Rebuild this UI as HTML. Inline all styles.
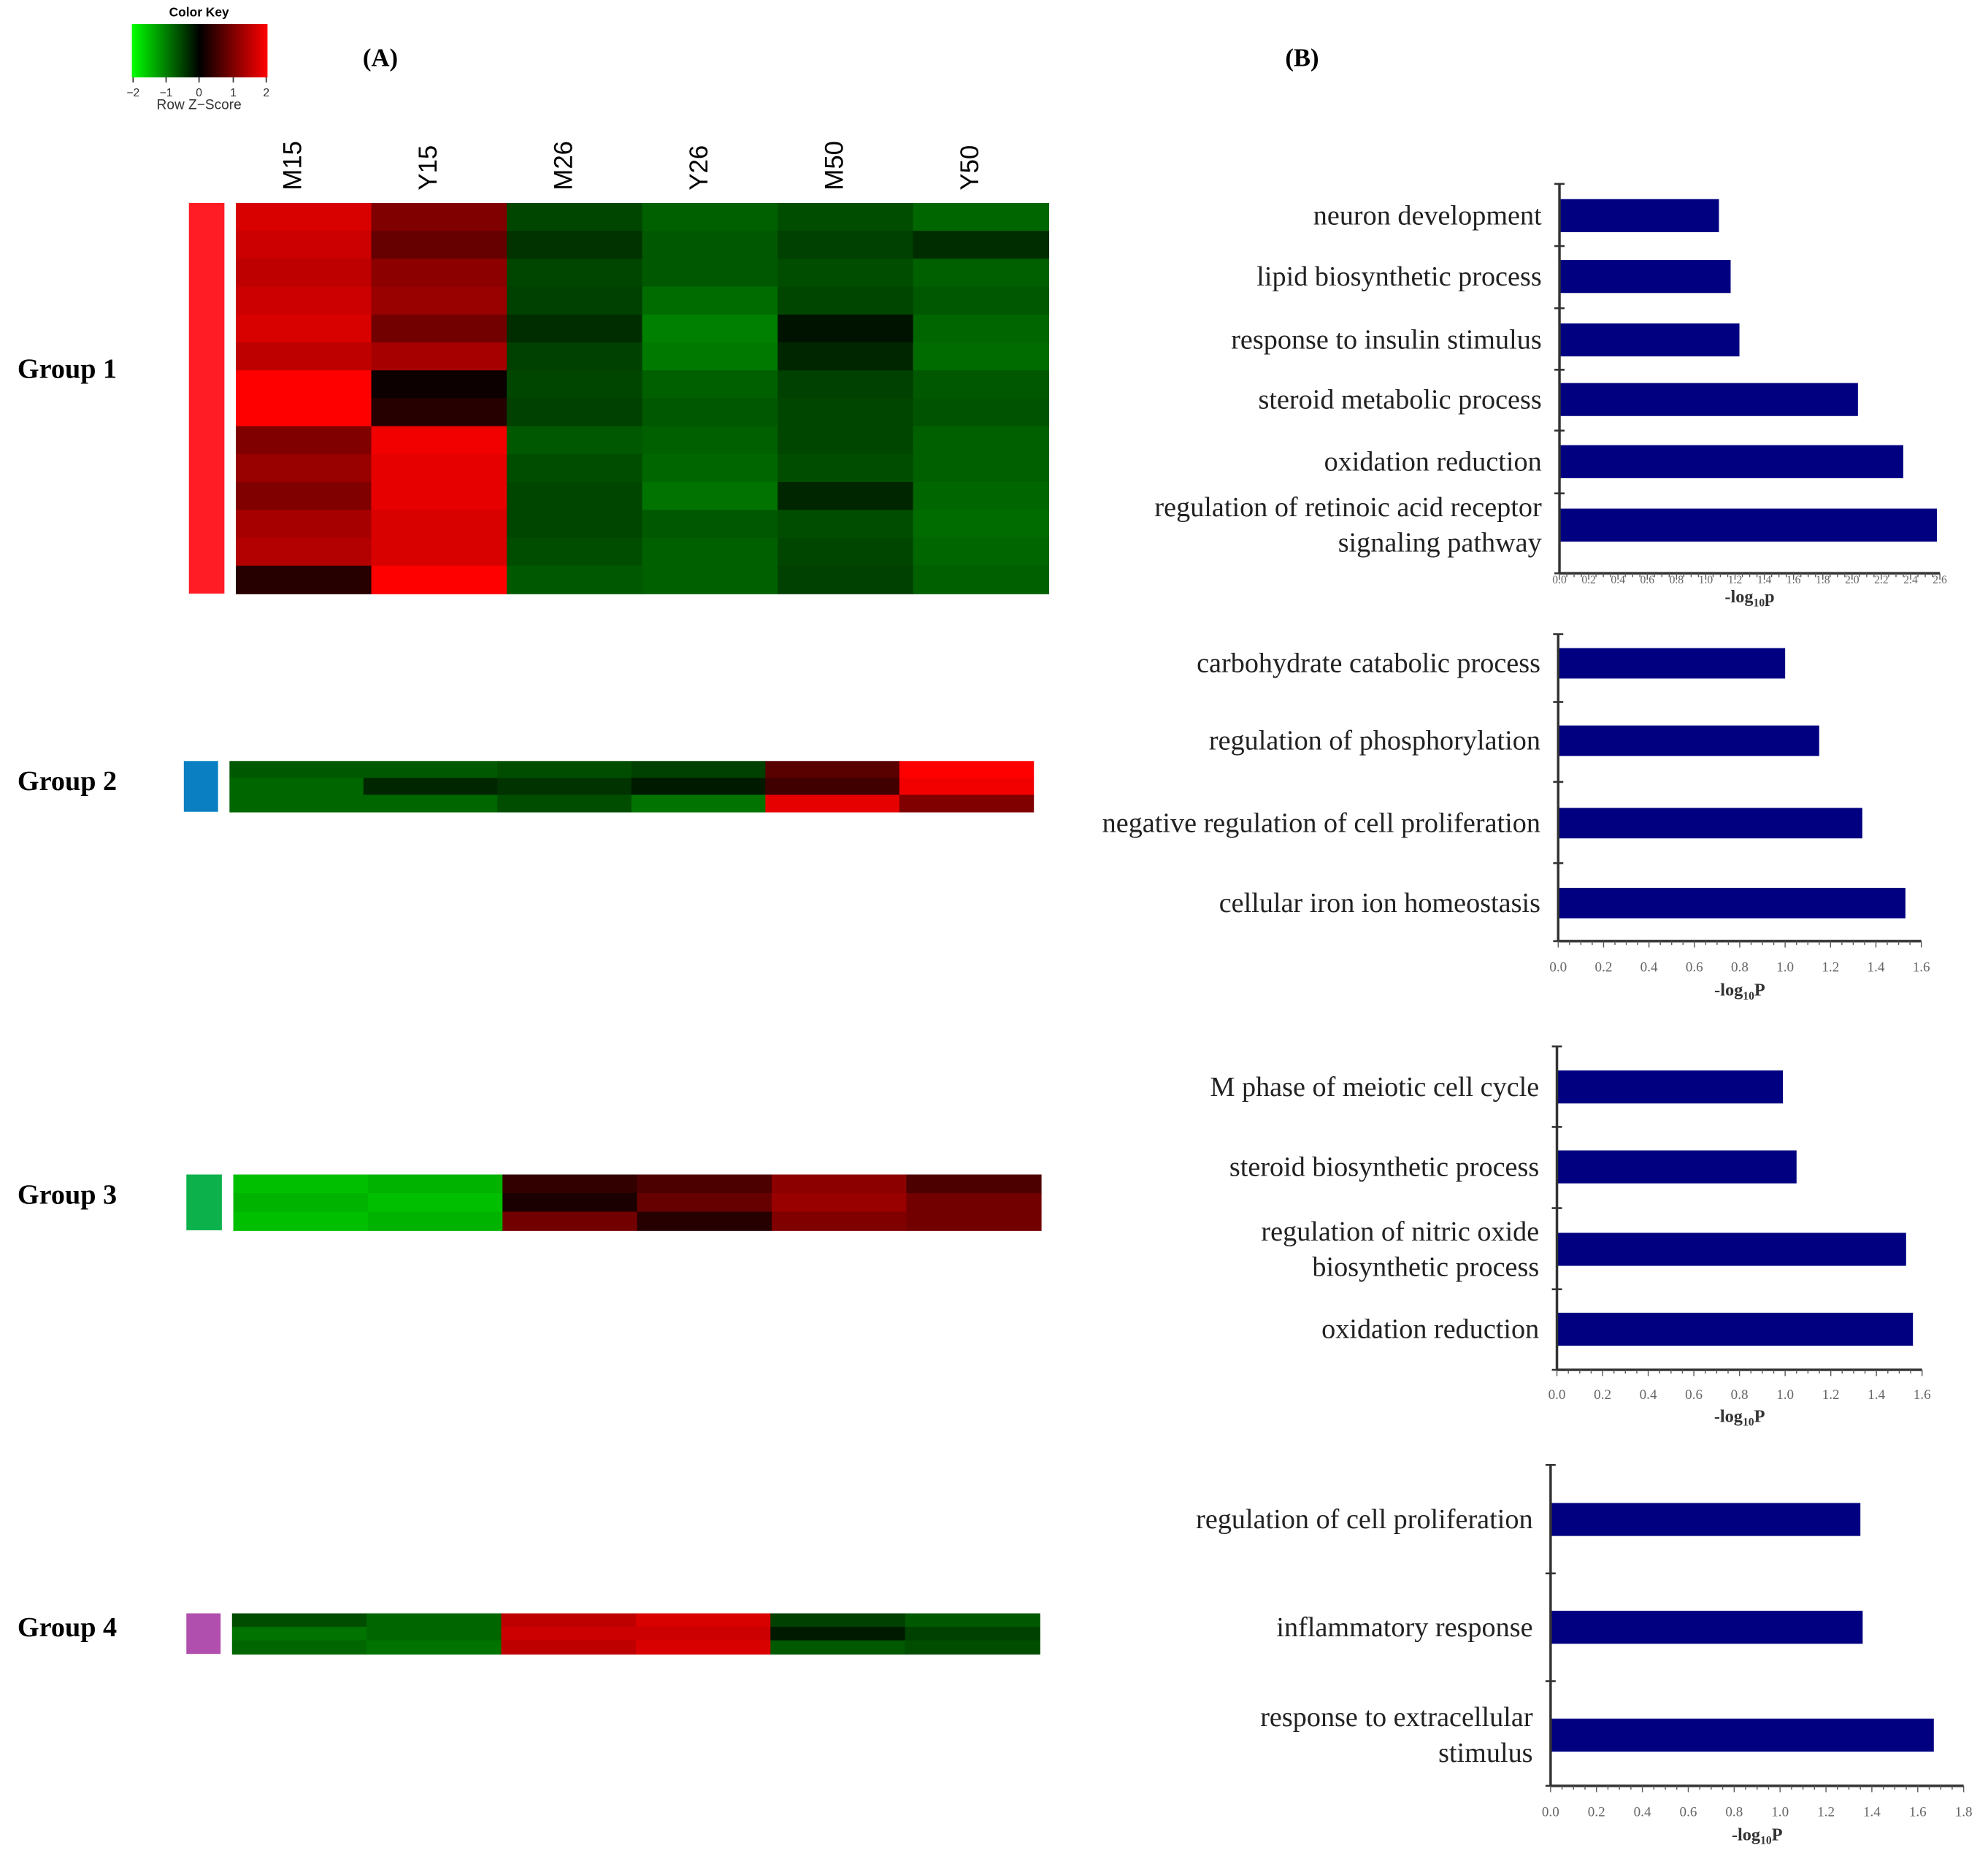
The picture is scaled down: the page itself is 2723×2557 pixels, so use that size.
<!DOCTYPE html>
<html><head><meta charset="utf-8"><style>
html,body{margin:0;padding:0;background:#fff;}
svg{display:block;}
.serif{font-family:"Liberation Serif",serif;}
.sans{font-family:"Liberation Sans",sans-serif;}
</style></head><body>
<svg id="fig" width="2723" height="2557" viewBox="0 0 1568 1472" preserveAspectRatio="none" xmlns="http://www.w3.org/2000/svg">
<defs><linearGradient id="ck" x1="0" x2="1" y1="0" y2="0"><stop offset="0" stop-color="#00ff00"/><stop offset="0.5" stop-color="#000"/><stop offset="1" stop-color="#ff0000"/></linearGradient></defs>
<g>
<text class="sans" x="157" y="13" font-size="10" font-weight="bold" text-anchor="middle">Color Key</text>
<rect x="104" y="19" width="107" height="42" fill="url(#ck)"/>
<g stroke="#333" stroke-width="1"><line x1="105" x2="105" y1="61" y2="65"/><line x1="131" x2="131" y1="61" y2="65"/><line x1="157" x2="157" y1="61" y2="65"/><line x1="184" x2="184" y1="61" y2="65"/><line x1="210" x2="210" y1="61" y2="65"/></g>
<g font-size="9" text-anchor="middle" fill="#333">
<text class="sans" x="105" y="76">−2</text><text class="sans" x="131" y="76">−1</text><text class="sans" x="157" y="76">0</text><text class="sans" x="184" y="76">1</text><text class="sans" x="210" y="76">2</text>
<text class="sans" x="157" y="86" font-size="11">Row Z−Score</text></g>
</g>
<text class="serif" x="300" y="52" font-size="20" font-weight="bold" text-anchor="middle">(A)</text>
<text class="serif" x="1027" y="52" font-size="20" font-weight="bold" text-anchor="middle">(B)</text>
<g id="heat"></g>
<g id="bars"></g>
</svg>
<script>
// ---- heatmap data (row z-scores; columns M15,Y15,M26,Y26,M50,Y50) ----
const sampleLabels = ["M15","Y15","M26","Y26","M50","Y50"];
const group1Rows = [
 [1.7,1.0,-0.55,-0.75,-0.6,-0.8],[1.6,0.8,-0.4,-0.7,-0.5,-0.35],[1.5,1.1,-0.55,-0.7,-0.6,-0.75],
 [1.6,1.2,-0.5,-0.85,-0.55,-0.7],[1.7,0.9,-0.35,-1.0,-0.15,-0.8],[1.5,1.3,-0.5,-0.95,-0.3,-0.85],
 [2.0,0.1,-0.55,-0.75,-0.5,-0.7],[2.0,0.3,-0.5,-0.7,-0.55,-0.65],[1.0,1.9,-0.7,-0.75,-0.55,-0.75],
 [1.2,1.8,-0.6,-0.8,-0.6,-0.75],[1.0,1.8,-0.55,-0.9,-0.3,-0.8],[1.3,1.7,-0.55,-0.7,-0.6,-0.85],
 [1.4,1.7,-0.6,-0.75,-0.55,-0.8],[0.3,2.0,-0.7,-0.75,-0.5,-0.75]
];
const group2Rows = [[-0.7,-0.7,-0.6,-0.5,0.7,2.0],[-0.8,-0.3,-0.4,-0.2,0.5,1.9],[-0.8,-0.8,-0.6,-0.9,1.8,1.0]];
const group3Rows = [[-1.5,-1.4,0.4,0.6,1.1,0.6],[-1.4,-1.5,0.2,0.8,1.2,0.9],[-1.5,-1.4,0.9,0.3,1.0,0.9]];
const group4Rows = [[-0.6,-0.8,1.5,1.7,-0.5,-0.7],[-0.9,-0.8,1.6,1.6,-0.2,-0.5],[-0.8,-0.9,1.5,1.7,-0.7,-0.6]];
const groupNames = ["Group 1","Group 2","Group 3","Group 4"];
const groupColors = ["#ff1c24","#0a7fc1","#0db14b","#b04fae"];

// ---- bar chart data ----
const c1Labels = [["neuron development"],["lipid biosynthetic process"],["response to insulin stimulus"],["steroid metabolic process"],["oxidation reduction"],["regulation of retinoic acid receptor","signaling pathway"]];
const c1Values = [1.09,1.17,1.23,2.04,2.35,2.58];
const c1Ticks = ["0.0","0.2","0.4","0.6","0.8","1.0","1.2","1.4","1.6","1.8","2.0","2.2","2.4","2.6"];
const c2Labels = [["carbohydrate catabolic process"],["regulation of phosphorylation"],["negative regulation of cell proliferation"],["cellular iron ion homeostasis"]];
const c2Values = [1.0,1.15,1.34,1.53];
const c2Ticks = ["0.0","0.2","0.4","0.6","0.8","1.0","1.2","1.4","1.6"];
const c3Labels = [["M phase of meiotic cell cycle"],["steroid biosynthetic process"],["regulation of nitric oxide","biosynthetic process"],["oxidation reduction"]];
const c3Values = [0.99,1.05,1.53,1.56];
const c3Ticks = ["0.0","0.2","0.4","0.6","0.8","1.0","1.2","1.4","1.6"];
const c4Labels = [["regulation of cell proliferation"],["inflammatory response"],["response to extracellular","stimulus"]];
const c4Values = [1.35,1.36,1.67];
const c4Ticks = ["0.0","0.2","0.4","0.6","0.8","1.0","1.2","1.4","1.6","1.8"];

const NS="http://www.w3.org/2000/svg";
function mk(tag,attrs,parent){const e=document.createElementNS(NS,tag);for(const k in attrs)e.setAttribute(k,attrs[k]);parent.appendChild(e);return e;}
function zcol(z){z=Math.max(-2,Math.min(2,z));const v=Math.round(Math.abs(z)/2*255);return z<0?`rgb(0,${v},0)`:`rgb(${v},0,0)`;}

const heat=document.getElementById('heat');
const layouts=[
 {rows:group1Rows,x:186,y:160,w:641,h:308,bx:149,bw:28,ly:298},
 {rows:group2Rows,x:181,y:600,w:634,h:40,bx:145,bw:27,ly:623},
 {rows:group3Rows,x:184,y:926,w:637,h:44,bx:147,bw:28,ly:949},
 {rows:group4Rows,x:183,y:1272,w:637,h:32,bx:147,bw:27,ly:1290}
];
layouts.forEach((L,gi)=>{
 const g=mk('g',{},heat);
 
 
 const lab=mk('text',{class:'serif',x:53,y:L.ly,'font-size':22,'font-weight':'bold','text-anchor':'middle'},g);
 lab.textContent=groupNames[gi];
 
 
 const sb=mk('rect',{x:L.bx,y:L.y,width:L.bw,height:L.h,fill:groupColors[gi]},g);
 
 
 const nr=L.rows.length,cw=L.w/6,rh=L.h/nr;
 L.rows.forEach((row,ri)=>row.forEach((z,ci)=>{
  const c=mk('rect',{x:L.x+ci*cw,y:L.y+ri*rh,width:cw+0.5,height:rh+0.5,fill:zcol(z)},g);
  
  
 }));
 if(gi===0){
  sampleLabels.forEach((s,ci)=>{
   const cx=L.x+ci*cw+cw/2;
   const t=mk('text',{class:'sans',x:0,y:0,'font-size':20,transform:`translate(${cx-2},150) rotate(-90)`},g);
   t.textContent=s;
   
   
  });
 }
});

const bars=document.getElementById('bars');
const charts=[
 {labels:c1Labels,values:c1Values,ticks:c1Ticks,x0:1230,ppu:115.4,yTop:145,yBot:452,centers:[170,218,268,315,364,414],bh:26,tickY:456,titleY:475,title:'p',tfs:9},
 {labels:c2Labels,values:c2Values,ticks:c2Ticks,x0:1229,ppu:179,yTop:500,yBot:742,centers:[523,584,649,712],bh:24,tickY:762,titleY:785,title:'P',tfs:11},
 {labels:c3Labels,values:c3Values,ticks:c3Ticks,x0:1228,ppu:180,yTop:825,yBot:1080,centers:[857,920,985,1048],bh:26,tickY:1099,titleY:1121,title:'P',tfs:11},
 {labels:c4Labels,values:c4Values,ticks:c4Ticks,x0:1223,ppu:181,yTop:1155,yBot:1408,centers:[1198,1283,1368],bh:26,tickY:1428,titleY:1451,title:'P',tfs:11}
];
charts.forEach((C,k)=>{
 const g=mk('g',{},bars);
 
 
 const xs=v=>C.x0+v*C.ppu;
 const n=C.values.length;
 C.values.forEach((v,i)=>{
  const cy=C.centers[i];
  const r=mk('rect',{x:C.x0,y:cy-C.bh/2,width:xs(v)-C.x0,height:C.bh,fill:'#000080'},g);
  
  
  const lines=C.labels[i];
  lines.forEach((ln,li)=>{
   const ty=cy+7+(li-(lines.length-1)/2)*28;
   const t=mk('text',{class:'serif',x:C.x0-14,y:ty,'font-size':22,'text-anchor':'end',fill:'#222'},g);
   t.textContent=ln;
   
   
  });
 });
 const ax=mk('line',{x1:C.x0,x2:C.x0,y1:C.yTop,y2:C.yBot,stroke:'#333','stroke-width':2},g);
 
 
 for(let i=0;i<=n;i++){
  const yy=i===0?C.yTop:(i===n?C.yBot:(C.centers[i-1]+C.centers[i])/2);
  mk('line',{x1:C.x0-4,x2:C.x0+4,y1:yy,y2:yy,stroke:'#333','stroke-width':1.5},g);
 }
 const maxv=(C.ticks.length-1)*0.2;
 const xa=mk('line',{x1:C.x0,x2:xs(maxv),y1:C.yBot,y2:C.yBot,stroke:'#333','stroke-width':2},g);
 
 
 for(let m=0;m<=(C.ticks.length-1)*4;m++){
  const xx=xs(m*0.05);
  mk('line',{x1:xx,x2:xx,y1:C.yBot,y2:C.yBot+(m%4===0?5:3),stroke:'#555','stroke-width':0.8},g);
 }
 C.ticks.forEach((tk,i)=>{
  const t=mk('text',{class:'serif',x:xs(i*0.2),y:C.tickY+4,'font-size':C.tfs,'text-anchor':'middle',fill:'#666'},g);
  t.textContent=tk;
  
  
 });
 const tt=mk('text',{class:'serif',x:C.x0+(xs(maxv)-C.x0)/2,y:C.titleY,'font-size':14,'font-weight':'bold','text-anchor':'middle',fill:'#333'},g);
 tt.innerHTML='-log<tspan font-size="9" dy="3">10</tspan><tspan dy="-3">'+C.title+'</tspan>';
 
 
});
</script>
</body></html>
